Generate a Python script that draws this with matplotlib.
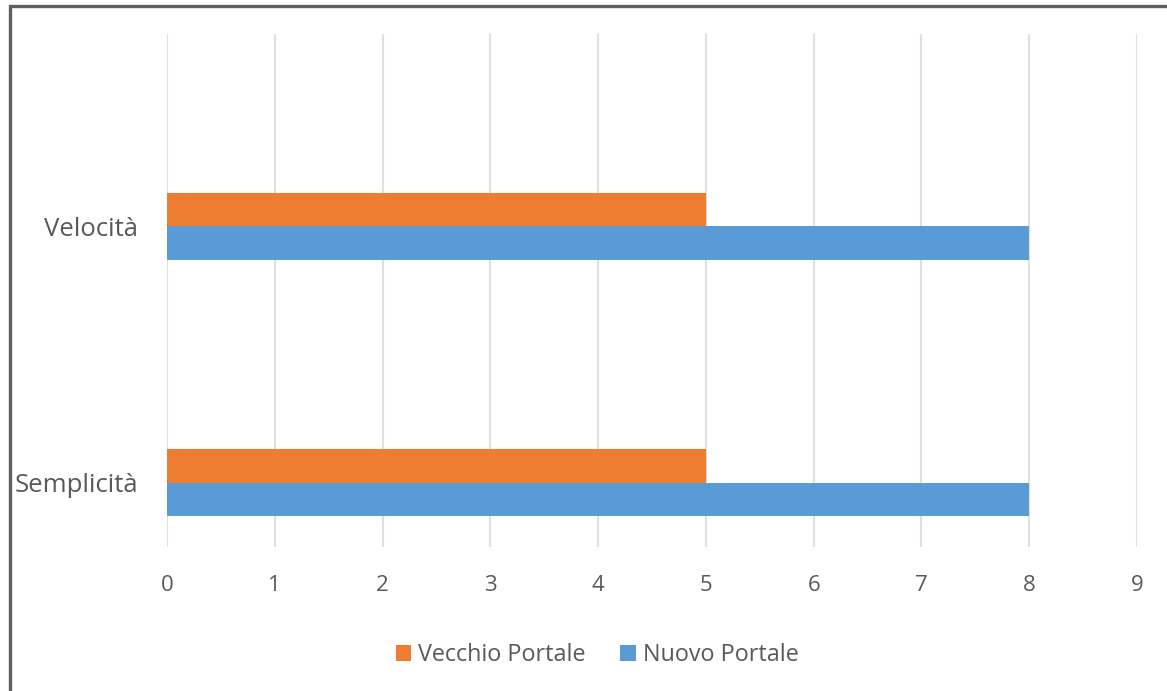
import matplotlib.pyplot as plt
from matplotlib.patches import Rectangle
import numpy as np

categories = ["Semplicità", "Velocità"]
vecchio = [5, 5]
nuovo = [8, 8]
x_ticks = [0, 1, 2, 3, 4, 5, 6, 7, 8, 9]

plt.rcParams["font.family"] = ["Open Sans", "DejaVu Sans"]
text_color = "#595959"

fig = plt.figure(figsize=(11.67, 6.91), dpi=100)
ax = fig.add_axes([167 / 1167, 1 - 547 / 691, 970 / 1167, 513 / 691])

# categories sit at 0 and 2 on a 4-slot axis, like the original
pos = np.array([0, 2])
h = 0.262
ax.barh(pos + h / 2, vecchio, height=h, color="#ED7D31", label="Vecchio Portale", zorder=3)
ax.barh(pos - h / 2, nuovo, height=h, color="#5B9BD5", label="Nuovo Portale", zorder=3)

ax.set_xlim(0, 9)
ax.set_ylim(-0.5, 3.5)
ax.set_xticks(x_ticks)
ax.set_yticks(pos)
ax.set_yticklabels(categories)
ax.grid(axis="x", color="#E0E0E0", linewidth=1.5, zorder=0)
for s in ax.spines.values():
    s.set_visible(False)
ax.tick_params(axis="x", length=0, pad=20, labelsize=16, labelcolor=text_color)
ax.tick_params(axis="y", length=0, pad=21, labelsize=18.5, labelcolor=text_color)

ax.legend(loc="center", bbox_to_anchor=(597 / 1167, 1 - 655 / 691),
          bbox_transform=fig.transFigure, ncol=2, frameon=False,
          fontsize=16.8, labelcolor=text_color, handlelength=0.68, handleheight=0.68,
          handletextpad=0.3, columnspacing=1.45)

# dark frame around the chart, cut off at right and bottom
fig.patches.append(Rectangle((9.5 / 1167, -0.1), 1.2, 1 - 5.5 / 691 + 0.1,
                             transform=fig.transFigure, fill=False,
                             edgecolor="#5F5F5F", linewidth=2.4))

fig.savefig("out.png", dpi=100)
